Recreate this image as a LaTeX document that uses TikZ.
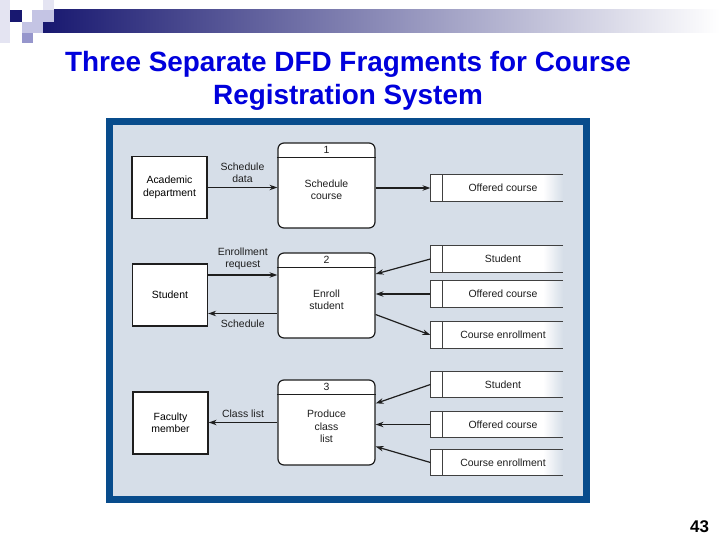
\documentclass[tikz,border=0pt]{standalone}
\usepackage{fontspec}
\setmainfont{Liberation Sans}
\usepackage{tikz}
\usetikzlibrary{arrows.meta, positioning, calc}
\definecolor{titleblue}{RGB}{0,0,220}
\definecolor{decnavy}{RGB}{24,24,112}
\definecolor{declight}{RGB}{196,196,228}
\definecolor{decpale}{RGB}{228,228,242}
\definecolor{decmid}{RGB}{150,150,204}
\definecolor{panelblue}{RGB}{8,76,140}
\definecolor{panelbg}{RGB}{214,222,232}
\definecolor{inkdark}{RGB}{30,30,30}
\tikzset{
  entity/.style={rectangle, draw=inkdark, fill=white, line width=1.3bp,
    minimum width=75bp, minimum height=62bp, inner sep=0pt,
    align=center, font=\fontsize{10.5}{12.5}\selectfont},
  process/.style={rectangle, draw=inkdark, fill=white, line width=1.2bp,
    minimum width=97bp, minimum height=85bp, inner sep=0pt, rounded corners=6bp},
  ptext/.style={align=center, font=\fontsize{10.5}{12.5}\selectfont, text=inkdark},
  store/.style={rectangle, minimum width=120bp, minimum height=26bp, inner sep=0pt,
    font=\fontsize{10.5}{12.5}\selectfont, text=inkdark,
    path picture={
      \fill[white] (path picture bounding box.south west) rectangle ([xshift=-20bp]path picture bounding box.north east);
      \shade[left color=white, right color=panelbg] ([xshift=-20bp]path picture bounding box.south east) rectangle (path picture bounding box.north east);
    }},
  storeid/.style={rectangle, fill=white, minimum width=12bp, minimum height=26bp, inner sep=0pt},
  storeline/.style={line width=1.2bp, color=inkdark!85},
  flow/.style={-{Stealth[length=8bp, width=5.5bp]}, line width=1.2bp, color=inkdark},
  flowlbl/.style={align=center, font=\fontsize{10.5}{12}\selectfont, text=inkdark}
}

\begin{document}
\begin{tikzpicture}[x=1bp, y=-1bp]
  \useasboundingbox (0,0) rectangle (720,540);
  \fill[white] (0,0) rectangle (720,540);
  % Corner decoration
  \shade[left color=decnavy, right color=white] (43,10) rectangle (720,33);
  \fill[decpale] (0,0) rectangle (10,43);
  \fill[decpale] (43,0) rectangle (54,10);
  \fill[declight] (32,10) rectangle (54,22);
  \fill[declight] (22,22) rectangle (43,33);
  \fill[decmid] (22,33) rectangle (33,43);
  \fill[decnavy] (10,10) rectangle (22,22);
  % Title
  \node[font=\fontsize{28}{33}\selectfont\bfseries, text=titleblue, align=center] (title)
    at (348, 81) {Three Separate DFD Fragments for Course\\Registration System};
  % Panel
  \fill[panelblue] (106,118) rectangle (590,503);
  \fill[panelbg] (113,125) rectangle (583,496);
  % External entities
  \node[entity] (acad) at (169.5, 187.5) {Academic\\department};
  \node[entity] (stud) at (170, 295) {Student};
  \node[entity] (fac) at (170.5, 423) {Faculty\\member};
  % Processes
  \foreach \nm/\yy/\num/\lbl in {p1/185.5/1/Schedule\\course, p2/295.5/2/Enroll\\student, p3/422.5/3/Produce\\class\\list} {
    \node[process] (\nm) at (326.5, \yy) {};
    \draw[line width=1bp, color=inkdark] ([yshift=-15bp]\nm.north west) -- ([yshift=-15bp]\nm.north east);
    \node[ptext] (\nm-num) at ([yshift=-7.5bp]\nm.north) {\num};
    \node[ptext] (\nm-txt) at ([yshift=-4bp]\nm.center) {\lbl};
  }
  % Data stores
  \foreach \nm/\yy/\lbl in {s1/188/Offered course, s2a/259/Student, s2b/294/Offered course,
      s2c/335/Course enrollment, s3a/384.5/Student, s3b/424.5/Offered course, s3c/462.5/Course enrollment} {
    \node[store] (\nm) at (503, \yy) {\lbl};
    \node[storeid, left=0pt of \nm] (\nm-id) {};
    \draw[storeline] (\nm.north east) -- (\nm-id.north west) -- (\nm-id.south west) -- (\nm.south east);
    \draw[storeline] (\nm-id.north east) -- (\nm-id.south east);
  }
  % Fragment 1
  \draw[flow] (acad.east) -- (acad.east -| p1.west)
    node[midway, above=1bp, flowlbl] {Schedule\\data};
  \draw[flow] (p1.east |- s1-id.west) -- (s1-id.west);
  % Fragment 2
  \coordinate (er) at ([yshift=20bp]stud.east);
  \coordinate (sc) at ([yshift=-18bp]p2.west);
  \draw[flow] (er) -- (er -| p2.west)
    node[midway, above=1bp, flowlbl] {Enrollment\\request};
  \draw[flow] (sc) -- (sc -| stud.east)
    node[midway, below=2bp, flowlbl] {Schedule};
  \draw[flow] (s2a-id.west) -- ([yshift=21.5bp]p2.east);
  \draw[flow] (s2b-id.west) -- (s2b-id.west -| p2.east);
  \draw[flow] ([yshift=-19bp]p2.east) -- (s2c-id.west);
  % Fragment 3
  \draw[flow] (p3.west) -- (p3.west -| fac.east)
    node[midway, above=1bp, flowlbl] {Class list};
  \draw[flow] (s3a-id.west) -- ([yshift=19bp]p3.east);
  \draw[flow] (s3b-id.west) -- (s3b-id.west -| p3.east);
  \draw[flow] (s3c-id.west) -- ([yshift=-24bp]p3.east);
  % Page number
  \node[font=\fontsize{17}{20}\selectfont\bfseries] (pagenum) at (699.5, 527) {43};
\end{tikzpicture}
\end{document}
